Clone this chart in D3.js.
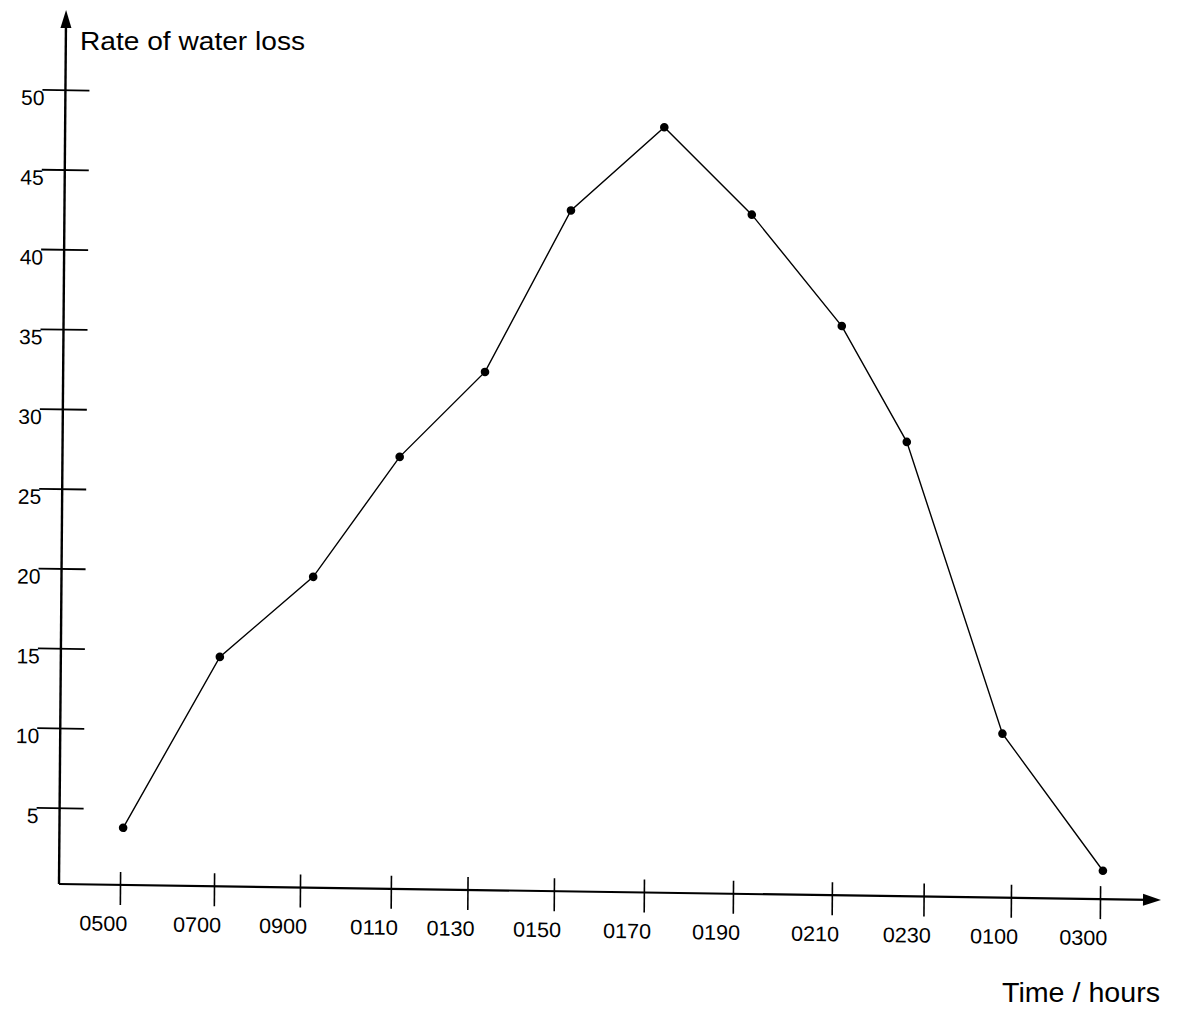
<!DOCTYPE html>
<html><head><meta charset="utf-8">
<script src="https://cdn.jsdelivr.net/npm/d3@7"></script>
<style>body{margin:0;background:#fff}svg{display:block}</style></head>
<body><svg id="c" width="1178" height="1009"></svg>
<script>
// ---- data ----
const timeLabels = ["0500","0700","0900","0110","0130","0150","0170","0190","0210","0230","0100","0300"];
const tickTimes  = [0, 1.055, 2.02, 3.04, 3.90, 4.87, 5.88, 6.88, 7.99, 9.02, 10.0, 11.0];
const pointTimes = [0.03, 1.10, 2.14, 3.10, 4.05, 5.00, 6.04, 7.03, 8.05, 8.79, 9.89, 11.03];
const waterLoss  = [3.8, 14.6, 19.7, 27.3, 32.7, 42.9, 48.2, 42.8, 35.9, 28.7, 10.5, 2.0];
const yTicks     = [5, 10, 15, 20, 25, 30, 35, 40, 45, 50];
const yTitle = "Rate of water loss";
const xTitle = "Time / hours";

// ---- chart ----
const svg = d3.select("#c");
const font = "'Liberation Sans', Arial, sans-serif";
svg.append("rect").attr("width",1178).attr("height",1009).attr("fill","#fff");

// slight scan tilt of the original sheet
const g = svg.append("g").attr("transform","matrix(1,0.01453,-0.0081,1,59,884)");

const x = d3.scaleLinear().domain([0, 11]).range([61, 1041]);
const y = d3.scaleLinear().domain([0, 50]).range([3.5, -794.2]);

// axis lines with arrows
g.append("line").attr("x1",0).attr("y1",0).attr("x2",0).attr("y2",-860)
  .attr("stroke","#000").attr("stroke-width",2.4);
g.append("path").attr("d","M0,-874 L-5.5,-856 L5.5,-856 Z").attr("fill","#000");
g.append("line").attr("x1",0).attr("y1",0).attr("x2",1090).attr("y2",0)
  .attr("stroke","#000").attr("stroke-width",2.2);
g.append("path").attr("d","M1102,0 L1084,-6 L1084,6 Z").attr("fill","#000");

// y axis ticks (cross the axis)
const yAx = g.append("g").call(d3.axisLeft(y).tickValues(yTicks).tickSize(23).tickPadding(0));
yAx.select(".domain").remove();
yAx.selectAll(".tick line").attr("x1",-23).attr("x2",24).attr("stroke","#000").attr("stroke-width",1.8);
yAx.selectAll(".tick text").attr("x",-21).attr("dy","0.72em")
  .attr("font-family",font).attr("font-size",21).attr("fill","#000");

// x axis ticks
const xAx = g.append("g").call(d3.axisBottom(x).tickValues(tickTimes).tickSize(20).tickPadding(0)
  .tickFormat((d,i)=>timeLabels[i]));
xAx.select(".domain").remove();
xAx.selectAll(".tick line").attr("y1",-13).attr("y2",20).attr("stroke","#000").attr("stroke-width",1.6);
xAx.selectAll(".tick text").attr("x",-17).attr("y",46).attr("dy",0)
  .attr("font-family",font).attr("font-size",21).attr("fill","#000")
  .attr("textLength",48).attr("lengthAdjust","spacingAndGlyphs");

// data line and points
const pts = pointTimes.map((t,i)=>[t, waterLoss[i]]);
g.append("path").datum(pts)
  .attr("d", d3.line().x(d=>x(d[0])).y(d=>y(d[1])))
  .attr("fill","none").attr("stroke","#000").attr("stroke-width",1.4);
g.selectAll("circle.pt").data(pts).join("circle").attr("class","pt")
  .attr("cx",d=>x(d[0])).attr("cy",d=>y(d[1])).attr("r",4.3).attr("fill","#000");

// titles
svg.append("text").attr("x",80).attr("y",50).text(yTitle)
  .attr("font-family",font).attr("font-size",25).attr("fill","#000")
  .attr("textLength",225).attr("lengthAdjust","spacingAndGlyphs");
svg.append("text").attr("x",1002).attr("y",1002).text(xTitle)
  .attr("font-family",font).attr("font-size",27).attr("fill","#000")
  .attr("textLength",158).attr("lengthAdjust","spacingAndGlyphs");
</script>
</body></html>
